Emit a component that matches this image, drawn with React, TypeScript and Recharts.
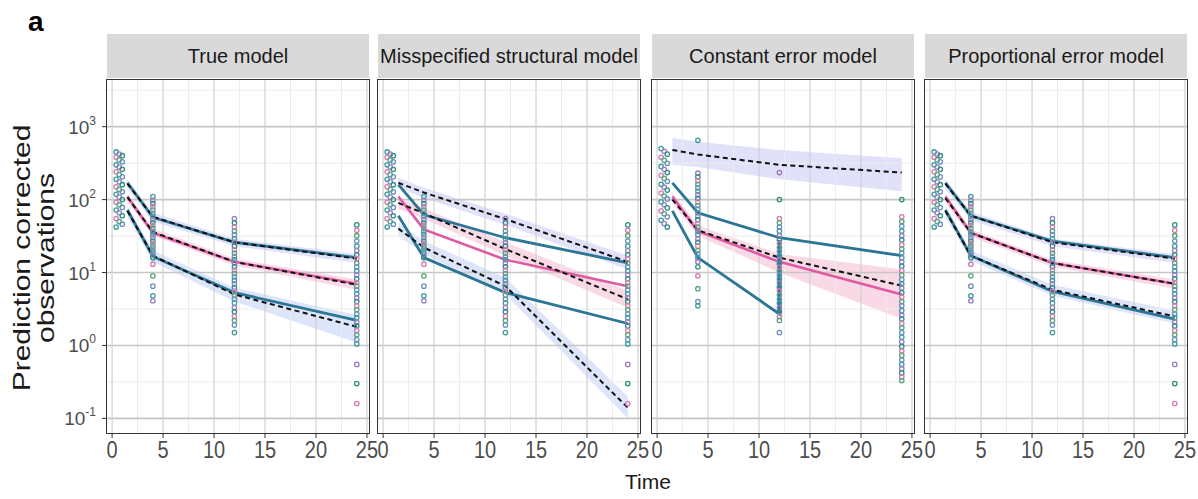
import React from 'react';
import { ComposedChart, Line, Area, Scatter, XAxis, YAxis, ReferenceLine } from 'recharts';

// bin midpoints used by the percentile lines and bands
const binTimes = [1.5, 4, 12, 24];
// the early observation column is spread over the first sampling times
const earlyTimes = [0.4, 0.7, 1.0];

const xTicks = [0, 5, 10, 15, 20, 25];
const xMinor = [2.5, 7.5, 12.5, 17.5, 22.5];
const yTicks = [0.1, 1, 10, 100, 1000];
const yMinor = [0.316, 3.16, 31.6, 316, 3162];

// observed columns (same subjects in the true / misspecified / proportional fits)
const obsEarly = [450, 420, 400, 380, 350, 330, 300, 280, 260, 240, 220, 205, 190, 175, 160, 150, 138, 128, 118, 108, 100, 92, 85, 78, 72, 66, 60, 55, 50, 46, 42];
const obsT4 = [110, 98, 88, 80, 72, 65, 59, 53, 48, 44, 40, 36, 33, 30, 27, 25, 23, 21, 19, 17.5, 16, 13, 9, 6.5, 4.8, 4.1];
const obsT12 = [55, 48, 42, 37, 33, 29, 26, 23, 20.5, 18.5, 16.5, 15, 13.5, 12, 10.8, 9.7, 8.7, 7.8, 7, 6.2, 5.5, 4.9, 4.3, 3.8, 3.3, 2.9, 2.5, 2.2, 1.9, 1.5];
const obsT24 = [45, 38, 32, 27, 23, 20, 17.5, 15.5, 13.5, 12, 10.5, 9.3, 8.2, 7.3, 6.5, 5.8, 5.1, 4.5, 4, 3.5, 3.1, 2.7, 2.4, 2.1, 1.85, 1.6, 1.4, 1.2, 1.05, 0.55, 0.3, 0.16];

// constant error model columns
const ceEarly = [500, 460, 420, 380, 345, 315, 285, 260, 235, 215, 195, 178, 162, 148, 135, 123, 112, 102, 93, 85, 77, 70, 64, 58, 52, 47, 42];
const ceT4 = [650, 230, 205, 182, 162, 145, 130, 116, 104, 93, 83, 74, 66, 59, 53, 47, 42, 37, 33, 29, 26, 23, 20, 18, 16, 14, 12, 9, 6, 4, 3.5];
const ceT12 = [235, 100, 55, 48, 42, 37, 32, 28, 25, 22, 19.5, 17, 15, 13.3, 11.8, 10.4, 9.2, 8.1, 7.2, 6.3, 5.6, 4.9, 4.3, 3.8, 3.3, 2.9, 2.5, 2.2, 1.5];
const ceT24 = [100, 58, 50, 43, 37, 32, 28, 24, 21, 18.5, 16, 14, 12.2, 10.6, 9.2, 8, 7, 6.1, 5.3, 4.6, 4, 3.5, 3, 2.6, 2.3, 2, 1.75, 1.5, 1.3, 1.12, 0.97, 0.84, 0.73, 0.63, 0.55, 0.48, 0.42, 0.37, 0.33];

// True model
const trueObs95 = [170, 57, 26, 16];
const trueObs50 = [110, 35, 14, 7];
const trueObs5 = [72, 16.6, 5.3, 2.2];
const truePred95 = [165, 58, 26, 15.5];
const truePred50 = [108, 36, 14, 6.8];
const truePred5 = [70, 17, 5.0, 1.8];
const trueBand95 = [[140, 190], [50, 66], [23, 29], [13.5, 18]];
const trueBand50 = [[95, 120], [32, 40], [12.5, 15.5], [5.8, 8]];
const trueBand5 = [[58, 82], [14, 20], [4, 6.2], [1.1, 2.6]];

// Misspecified structural model
const misObs95 = [160, 62, 30, 13.6];
const misObs50 = [110, 39, 15, 6.5];
const misObs5 = [60, 16, 5.3, 2.0];
const misPred95 = [170, 125, 54, 14];
const misPred50 = [90, 65, 21, 4.3];
const misPred5 = [40, 22, 6.5, 0.14];
const misBand95 = [[145, 200], [105, 145], [45, 64], [11, 17]];
const misBand50 = [[75, 105], [55, 76], [17, 26], [3.3, 5.6]];
const misBand5 = [[32, 48], [18, 27], [5, 8.5], [0.1, 0.2]];

// Constant error model
const ceObs95 = [170, 66, 30, 17];
const ceObs50 = [110, 37, 14, 5.0];
const ceObs5Times = [1.5, 4, 12, 12];
const ceObs5 = [70, 16, 2.7, 28];
const cePred95 = [480, 415, 300, 235];
const cePred50 = [100, 38, 16, 6.6];
const ceBand95 = [[300, 700], [280, 620], [190, 480], [130, 370]];
const ceBand50 = [[90, 125], [32, 44], [10, 18], [2.3, 11]];

// Proportional error model
const propObs95 = [170, 60, 27, 16];
const propObs50 = [110, 35, 13.5, 7];
const propObs5 = [72, 17, 5.5, 2.3];
const propPred95 = [165, 60, 26, 15.5];
const propPred50 = [105, 35, 13.5, 7];
const propPred5 = [70, 17, 5.8, 2.5];
const propBand95 = [[140, 190], [52, 68], [23, 29], [13.5, 18]];
const propBand50 = [[92, 120], [31, 39], [12, 15], [6, 8]];
const propBand5 = [[58, 82], [14.5, 20], [4.8, 6.8], [2.0, 3.0]];

const titles = ['True model', 'Misspecified structural model', 'Constant error model', 'Proportional error model'];

const dotColors = ['#3f9c9c', '#9a7cc0', '#2f8f86', '#d27bb4', '#5aa47a', '#6a8fc0'];
const BLUE = '#2b7595';
const PINK = '#df5aa2';
const FONT = '"Liberation Sans", Arial, sans-serif';

const PLOT_LEFT = [107, 378, 652, 925];
const PLOT_W = 262;
const PLOT_TOP = 80;
const PLOT_H = 353;
const AXIS_H = 40;
const YAXIS_W = 55;

type Pair = number[];

interface PanelSpec {
  title: string;
  obs95?: number[];
  obs50?: number[];
  obs5?: number[];
  obs5Times?: number[];
  pred95?: number[];
  pred50?: number[];
  pred5?: number[];
  band95?: Pair[];
  band50?: Pair[];
  band5?: Pair[];
  cols: number[][];
}

const panels: PanelSpec[] = [
  { title: titles[0], obs95: trueObs95, obs50: trueObs50, obs5: trueObs5, pred95: truePred95, pred50: truePred50, pred5: truePred5, band95: trueBand95, band50: trueBand50, band5: trueBand5, cols: [obsEarly, obsT4, obsT12, obsT24] },
  { title: titles[1], obs95: misObs95, obs50: misObs50, obs5: misObs5, pred95: misPred95, pred50: misPred50, pred5: misPred5, band95: misBand95, band50: misBand50, band5: misBand5, cols: [obsEarly, obsT4, obsT12, obsT24] },
  { title: titles[2], obs95: ceObs95, obs50: ceObs50, obs5: ceObs5, obs5Times: ceObs5Times, pred95: cePred95, pred50: cePred50, band95: ceBand95, band50: ceBand50, cols: [ceEarly, ceT4, ceT12, ceT24] },
  { title: titles[3], obs95: propObs95, obs50: propObs50, obs5: propObs5, pred95: propPred95, pred50: propPred50, pred5: propPred5, band95: propBand95, band50: propBand50, band5: propBand5, cols: [obsEarly, obsT4, obsT12, obsT24] },
];

const buildRows = (p: PanelSpec) =>
  binTimes.map((t, i) => ({
    t,
    obs95: p.obs95?.[i],
    obs50: p.obs50?.[i],
    pred95: p.pred95?.[i],
    pred50: p.pred50?.[i],
    pred5: p.pred5?.[i],
    band95: p.band95?.[i],
    band50: p.band50?.[i],
    band5: p.band5?.[i],
  }));

const buildPoints = (cols: number[][]) => {
  const pts: { t: number; v: number; c: string }[] = [];
  cols[0].forEach((v, i) => pts.push({ t: earlyTimes[i % earlyTimes.length], v, c: dotColors[i % dotColors.length] }));
  [4, 12, 24].forEach((t, k) =>
    cols[k + 1].forEach((v, i) => pts.push({ t, v, c: dotColors[(i + k) % dotColors.length] }))
  );
  return pts;
};

const Dot: React.FC<any> = ({ cx, cy, payload }) => {
  if (cx == null || cy == null) return null;
  return <circle cx={cx} cy={cy} r={2.2} fill="none" stroke={payload.c} strokeWidth={1.3} />;
};

const DecadeTick: React.FC<any> = ({ x, y, payload }) => {
  const e = Math.round(Math.log10(payload.value));
  return (
    <text x={x - 4} y={y + 7} textAnchor="end" fill="#4d4d4d" fontSize={19} fontFamily={FONT}>
      10<tspan dy={-9} fontSize={12}>{e}</tspan>
    </text>
  );
};

const TimeTick: React.FC<any> = ({ x, y, payload }) => (
  <text x={x} y={y} textAnchor="middle" fill="#4d4d4d" fontSize={20} fontFamily={FONT}
    transform={`translate(0 ${y}) scale(1 1.15) translate(0 ${-y})`} dy={15}>
    {payload.value}
  </text>
);

const Panel: React.FC<{ spec: PanelSpec; idx: number }> = ({ spec, idx }) => {
  const withY = idx === 0;
  const yw = withY ? YAXIS_W : 0;
  const rows = buildRows(spec);
  const pts = buildPoints(spec.cols);
  const lowObs = (spec.obs5Times ?? binTimes).map((t, i) => ({ t, v: spec.obs5![i] }));
  const left = PLOT_LEFT[idx];
  const dash = { stroke: '#111', strokeWidth: 2, strokeDasharray: '5 3.5', dot: false, isAnimationActive: false };

  return (
    <>
      <div
        style={{
          position: 'absolute', left, top: 34, width: PLOT_W, height: 44, background: '#d9d9d9',
          display: 'flex', alignItems: 'center', justifyContent: 'center',
          fontFamily: FONT, fontSize: 20, color: '#1a1a1a', whiteSpace: 'nowrap',
        }}
      >
        {spec.title}
      </div>
      <div style={{ position: 'absolute', left: left - yw, top: PLOT_TOP }}>
        <ComposedChart width={PLOT_W + yw} height={PLOT_H + AXIS_H} data={rows} margin={{ top: 0, right: 0, bottom: 0, left: 0 }}>
          <XAxis
            dataKey="t" type="number" domain={[-0.5, 25.2]} ticks={xTicks} allowDataOverflow
            height={AXIS_H} axisLine={false} tickLine={{ stroke: '#333' }} tickSize={5} tickMargin={3}
            tick={<TimeTick />} interval={0}
          />
          <YAxis
            type="number" scale="log" domain={[0.063, 4365]} ticks={yTicks} allowDataOverflow
            hide={!withY} width={yw} axisLine={false} tickLine={{ stroke: '#333' }} tickSize={5}
            tick={<DecadeTick />} interval={0}
          />
          {yMinor.map((v) => <ReferenceLine key={'ym' + v} y={v} stroke="#ececec" strokeWidth={1} />)}
          {xMinor.map((v) => <ReferenceLine key={'xm' + v} x={v} stroke="#ececec" strokeWidth={1} />)}
          {yTicks.map((v) => <ReferenceLine key={'y' + v} y={v} stroke="#c6c6c6" strokeWidth={1.6} />)}
          {xTicks.map((v) => <ReferenceLine key={'x' + v} x={v} stroke="#cdcdcd" strokeWidth={1.1} />)}

          {spec.band95 && <Area dataKey="band95" stroke="none" fill="#c9cbf5" fillOpacity={0.55} isAnimationActive={false} />}
          {spec.band50 && <Area dataKey="band50" stroke="none" fill="#f6b9d3" fillOpacity={0.55} isAnimationActive={false} />}
          {spec.band5 && <Area dataKey="band5" stroke="none" fill="#c6d3f6" fillOpacity={0.6} isAnimationActive={false} />}

          <Line dataKey="obs95" stroke={BLUE} strokeWidth={2.8} dot={false} isAnimationActive={false} />
          <Line dataKey="obs50" stroke={PINK} strokeWidth={2.6} dot={false} isAnimationActive={false} />
          <Line data={lowObs} dataKey="v" stroke={BLUE} strokeWidth={2.8} dot={false} isAnimationActive={false} />

          <Scatter data={pts} dataKey="v" shape={<Dot />} isAnimationActive={false} />

          {spec.pred95 && <Line dataKey="pred95" {...dash} />}
          {spec.pred50 && <Line dataKey="pred50" {...dash} />}
          {spec.pred5 && <Line dataKey="pred5" {...dash} />}
        </ComposedChart>
      </div>
      <div
        style={{
          position: 'absolute', left: left - 1, top: PLOT_TOP - 1, width: PLOT_W, height: PLOT_H,
          border: '1.5px solid #333', pointerEvents: 'none',
        }}
      />
    </>
  );
};

export default function App() {
  return (
    <div style={{ position: 'absolute', left: 0, top: 0, width: 1198, height: 499, background: '#fff', overflow: 'hidden' }}>
      <style>{'.recharts-surface { overflow: visible; }'}</style>
      <div style={{ position: 'absolute', left: 28, top: 6, fontFamily: FONT, fontWeight: 'bold', fontSize: 28 }}>a</div>
      {panels.map((p, i) => <Panel key={p.title} spec={p} idx={i} />)}
      <svg style={{ position: 'absolute', left: 0, top: 0 }} width={80} height={499}>
        <text transform="translate(30,258) rotate(-90) scale(1.25 1)" textAnchor="middle" fontFamily={FONT} fontSize={24} fill="#1a1a1a">
          Prediction corrected
        </text>
        <text transform="translate(54,258) rotate(-90) scale(1.25 1)" textAnchor="middle" fontFamily={FONT} fontSize={24} fill="#1a1a1a">
          observations
        </text>
      </svg>
      <div style={{ position: 'absolute', left: 548, width: 200, top: 470, textAlign: 'center', fontFamily: FONT, fontSize: 21, color: '#1a1a1a' }}>
        Time
      </div>
    </div>
  );
}
